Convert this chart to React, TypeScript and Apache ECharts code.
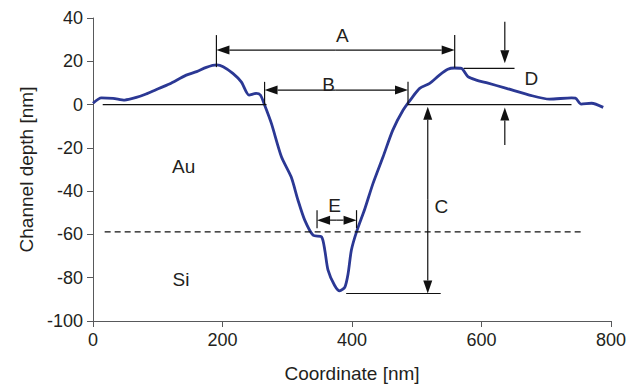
import React, { useEffect, useRef } from "react";
import * as echarts from "echarts";

// Profile (Coordinate [nm], Channel depth [nm])
const coordX: number[] = [0, 13, 31, 49, 67, 82, 98, 118, 144, 160, 175, 191, 201, 216, 229, 241, 252, 258.5, 265, 275.5, 291, 306, 316.6, 327, 340, 353, 358, 363, 373, 381, 389, 394, 399, 407, 420, 432.5, 448, 463, 479, 492, 504.5, 520, 535, 548, 558, 569, 579, 592, 607.5, 638.5, 674, 705, 739, 745, 754, 770, 788];
const depthY: number[] = [0.6, 3.1, 2.9, 2.1, 3.3, 4.9, 7.0, 9.5, 13.6, 15.2, 17.2, 18.3, 17.5, 14.4, 10.5, 4.4, 5.2, 4.4, -0.2, -8.7, -24.1, -33.4, -44.2, -53.4, -60.4, -61.1, -67.3, -76.5, -83.5, -86.1, -84.3, -78.1, -67.3, -58.8, -48, -36.4, -24.1, -11.8, -2.5, 2.9, 7.5, 9.8, 13.6, 16.3, 16.9, 16.7, 12.9, 11.3, 10.1, 7.5, 4.4, 2.5, 3.1, 3.0, 0.2, 0.6, -1.3];

const xTicks = [0, 200, 400, 600, 800];
const yTicks = [-100, -80, -60, -40, -20, 0, 20, 40];

// Annotation geometry in data units
const plainSegments: number[][][] = [
  [[15, 0], [268, 0]],
  [[486, 0], [739, 0]],
  [[190.6, 17.3], [190.6, 32.1]],
  [[558.6, 17.0], [558.6, 32.1]],
  [[265, 0], [265, 10.5]],
  [[486.5, 0], [486.5, 10.5]],
  [[391, -87.3], [537, -87.3]],
  [[572.5, 16.7], [651, 16.7]],
  [[346, -48.8], [346, -57.1]],
  [[407, -48.8], [407, -57.1]],
];
const dashedSegment: number[][] = [[18, -58.8], [756, -58.8]];
const arrows: number[][][] = [
  [[375, 25.2], [190.6, 25.2]],
  [[375, 25.2], [558.6, 25.2]],
  [[375, 6.7], [265, 6.7]],
  [[375, 6.7], [486.5, 6.7]],
  [[517, -44], [517, -1]],
  [[517, -44], [517, -87.3]],
  [[636, 38.3], [636, 19.1]],
  [[636, -18.7], [636, -1.3]],
  [[376.5, -53.4], [346, -53.4]],
  [[376.5, -53.4], [407, -53.4]],
];
const labelTexts = ["A", "B", "C", "D", "E", "Au", "Si"];
const labelPos: number[][] = [
  [385, 31.7],
  [364, 9.5],
  [538, -47.3],
  [677, 12.1],
  [373, -46.5],
  [140, -28.4],
  [136, -80.7],
];

const FONT = "'Liberation Sans', Arial, Helvetica, sans-serif";
const TXT = "#231f20";

export default function App() {
  const ref = useRef<HTMLDivElement>(null);
  useEffect(() => {
    document.body.style.margin = "0";
    if (!ref.current) return;
    const chart = echarts.init(ref.current, null, { renderer: "svg" });
    chart.setOption({
      animation: false,
      grid: { left: 93, top: 18, right: 27, bottom: 71 },
      xAxis: {
        type: "value",
        min: 0,
        max: 800,
        interval: 200,
        name: "Coordinate [nm]",
        nameLocation: "middle",
        nameGap: 43,
        nameTextStyle: { fontSize: 19, color: TXT, fontFamily: FONT },
        axisLine: { onZero: false, lineStyle: { color: "#58595b", width: 1 } },
        axisTick: { show: true, length: 6, lineStyle: { color: "#58595b" } },
        axisLabel: { fontSize: 18, color: TXT, fontFamily: FONT, margin: 10, formatter: (v: number) => (xTicks.includes(v) ? String(v) : "") },
        splitLine: { show: false },
      },
      yAxis: {
        type: "value",
        min: -100,
        max: 40,
        interval: 20,
        name: "Channel depth [nm]",
        nameLocation: "middle",
        nameGap: 55,
        nameTextStyle: { fontSize: 19, color: TXT, fontFamily: FONT },
        axisLine: { show: true, lineStyle: { color: "#58595b", width: 1 } },
        axisTick: { show: true, length: 6, lineStyle: { color: "#58595b" } },
        axisLabel: { fontSize: 18, color: TXT, fontFamily: FONT, margin: 10, formatter: (v: number) => (yTicks.includes(v) ? String(v) : "") },
        splitLine: { show: false },
      },
      series: [
        {
          type: "line",
          data: coordX.map((x, i) => [x, depthY[i]]),
          showSymbol: false,
          smooth: 0.25,
          lineStyle: { color: "#2b3894", width: 2.8 },
          z: 3,
        },
      ],
    });

    const px = (p: number[]) => chart.convertToPixel({ gridIndex: 0 }, p) as number[];
    const g: any[] = [];
    const lineStyle = { stroke: "#111", lineWidth: 1.2 };
    plainSegments.forEach((s) => {
      const a = px(s[0]);
      const b = px(s[1]);
      g.push({ type: "line", shape: { x1: a[0], y1: a[1], x2: b[0], y2: b[1] }, style: lineStyle, z: 10 });
    });
    {
      const a = px(dashedSegment[0]);
      const b = px(dashedSegment[1]);
      g.push({ type: "line", shape: { x1: a[0], y1: a[1], x2: b[0], y2: b[1] }, style: { stroke: "#111", lineWidth: 1.2, lineDash: [6, 4] }, z: 10 });
    }
    const L = 13;
    const W = 4.5;
    arrows.forEach((s) => {
      const a = px(s[0]);
      const b = px(s[1]);
      const dx = b[0] - a[0];
      const dy = b[1] - a[1];
      const len = Math.hypot(dx, dy) || 1;
      const ux = dx / len;
      const uy = dy / len;
      const bx = b[0] - ux * L;
      const by = b[1] - uy * L;
      g.push({ type: "line", shape: { x1: a[0], y1: a[1], x2: bx, y2: by }, style: lineStyle, z: 10 });
      g.push({
        type: "polygon",
        shape: { points: [[b[0], b[1]], [bx - uy * W, by + ux * W], [bx + uy * W, by - ux * W]] },
        style: { fill: "#111" },
        z: 10,
      });
    });
    labelTexts.forEach((t, i) => {
      const p = px(labelPos[i]);
      g.push({
        type: "text",
        x: p[0],
        y: p[1],
        style: { text: t, fontSize: 19, fill: TXT, fontFamily: FONT, align: "center", verticalAlign: "middle" },
        z: 11,
      });
    });
    chart.setOption({ graphic: g });
    return () => chart.dispose();
  }, []);
  return <div ref={ref} style={{ width: 638, height: 392 }} />;
}
